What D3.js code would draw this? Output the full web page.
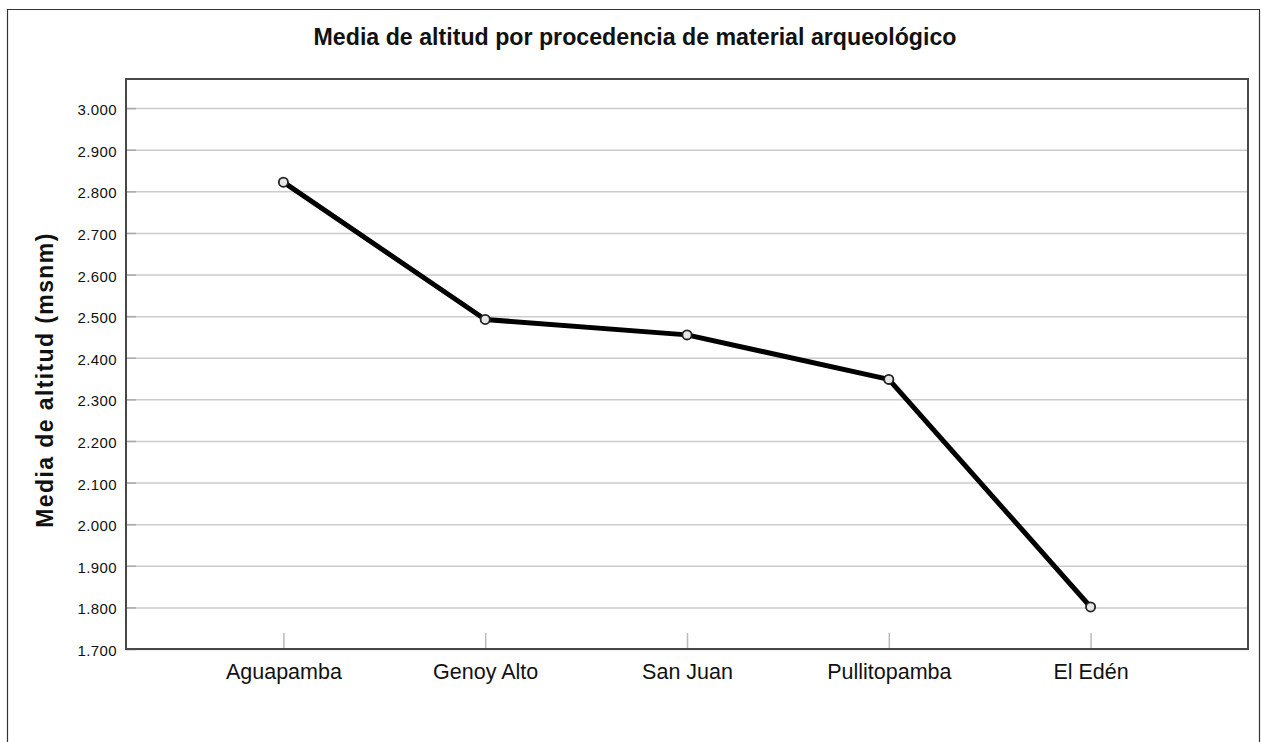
<!DOCTYPE html>
<html>
<head>
<meta charset="utf-8">
<script src="https://cdn.jsdelivr.net/npm/d3@7"></script>
<style>
  body { margin: 0; background: #fff; }
  svg { display: block; }
  text { font-family: "Liberation Sans", Arial, sans-serif; fill: #111; }
</style>
</head>
<body>
<svg id="chart" width="1262" height="742"></svg>
<script>
// Mean altitude (m a.s.l.) by origin of the archaeological material
const categories = ["Aguapamba", "Genoy Alto", "San Juan", "Pullitopamba", "El Edén"];
const meanAltitude = [2822, 2492, 2455, 2348, 1801];
const yTicks = [1700, 1800, 1900, 2000, 2100, 2200, 2300, 2400, 2500, 2600, 2700, 2800, 2900, 3000];
const chartTitle = "Media de altitud por procedencia de material arqueológico";
const yAxisTitle = "Media de altitud (msnm)";

const svg = d3.select("#chart");
const plot = { left: 126, top: 79, right: 1248, bottom: 649 };

const x = d3.scalePoint().domain(categories).range([plot.left, plot.right]).padding(0.78);
const y = d3.scaleLinear().domain([1700, 3070]).range([plot.bottom, plot.top]);

// Spanish-style thousands separator: 2.500
const esFormat = d3.formatLocale({ decimal: ",", thousands: ".", grouping: [3], currency: ["", ""] }).format(",d");

// Outer frame
svg.append("path")
  .attr("d", "M7.5,742 V9.5 H1259.5 V742")
  .attr("fill", "none")
  .attr("stroke", "#333")
  .attr("stroke-width", 1.2);

// Title
svg.append("text")
  .attr("x", 635).attr("y", 45)
  .attr("text-anchor", "middle")
  .style("font-weight", "bold")
  .style("font-size", "23.2px")
  .text(chartTitle);

// Horizontal gridlines
svg.append("g")
  .attr("transform", `translate(${plot.left},0)`)
  .call(d3.axisLeft(y).tickValues(yTicks).tickSize(-(plot.right - plot.left)).tickFormat(""))
  .call(g => g.select(".domain").remove())
  .call(g => g.selectAll("line").attr("stroke", "#cccccc").attr("stroke-width", 1.5));

// Y axis with short inward ticks
svg.append("g")
  .attr("transform", `translate(${plot.left},0)`)
  .call(d3.axisLeft(y).tickValues(yTicks).tickSizeInner(-10).tickSizeOuter(0).tickPadding(9).tickFormat(esFormat))
  .call(g => g.select(".domain").remove())
  .call(g => g.selectAll("line").attr("stroke", "#aaaaaa").attr("stroke-width", 1.5))
  .call(g => g.selectAll("text")
    .attr("x", -9).attr("dy", null).attr("y", 6.5)
    .style("font-size", "15px").style("letter-spacing", "0.4px").attr("fill", "#111"));

// X axis with short upward ticks
svg.append("g")
  .attr("transform", `translate(0,${plot.bottom})`)
  .call(d3.axisBottom(x).tickSizeInner(-16).tickSizeOuter(0))
  .call(g => g.select(".domain").remove())
  .call(g => g.selectAll("line").attr("stroke", "#bbbbbb").attr("stroke-width", 1.5))
  .call(g => g.selectAll("text")
    .attr("y", 30).attr("dy", null)
    .style("font-size", "21.5px").attr("fill", "#111"));

// Plot frame
svg.append("rect")
  .attr("x", plot.left).attr("y", plot.top)
  .attr("width", plot.right - plot.left).attr("height", plot.bottom - plot.top)
  .attr("fill", "none")
  .attr("stroke", "#484848")
  .attr("stroke-width", 2);

// Y axis title
svg.append("text")
  .attr("transform", `translate(53,380) rotate(-90)`)
  .attr("text-anchor", "middle")
  .style("font-weight", "bold")
  .style("font-size", "23px")
  .style("letter-spacing", "1.4px")
  .text(yAxisTitle);

// Mean line and markers
const points = categories.map((c, i) => ({ cat: c, val: meanAltitude[i] }));

svg.append("path")
  .datum(points)
  .attr("d", d3.line().x(d => x(d.cat)).y(d => y(d.val)))
  .attr("fill", "none")
  .attr("stroke", "#000")
  .attr("stroke-width", 5)
  .attr("stroke-linejoin", "round");

svg.append("g")
  .selectAll("circle")
  .data(points)
  .join("circle")
  .attr("cx", d => x(d.cat))
  .attr("cy", d => y(d.val))
  .attr("r", 4.6)
  .attr("fill", "#e6e6e6")
  .attr("stroke", "#222")
  .attr("stroke-width", 1.8);
</script>
</body>
</html>
